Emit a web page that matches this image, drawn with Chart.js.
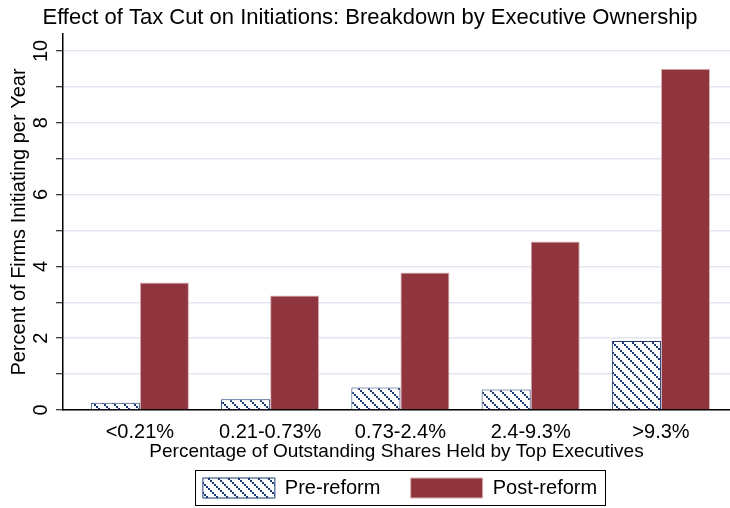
<!DOCTYPE html>
<html>
<head>
<meta charset="utf-8">
<script src="https://cdn.jsdelivr.net/npm/chart.js@4.4.0/dist/chart.umd.min.js"></script>
<style>
  html, body { margin: 0; padding: 0; background: #fff; }
  #wrap { width: 730px; height: 508px; }
</style>
</head>
<body>
<div id="wrap"><canvas id="chart"></canvas></div>
<script>
// Data
const categories = ["<0.21%", "0.21-0.73%", "0.73-2.4%", "2.4-9.3%", ">9.3%"];
const preReform = [0.2, 0.3, 0.63, 0.57, 1.92];
const postReform = [3.55, 3.19, 3.83, 4.69, 9.5];
const yTickValues = [0, 1, 2, 3, 4, 5, 6, 7, 8, 9, 10];
const yLabelValues = [0, 2, 4, 6, 8, 10];

const navy = "#1c3a78";
const maroon = "#90353d";
const FONT = "'Liberation Sans', Arial, sans-serif";

// diagonal stair-step hatch like the Stata fill
function makeHatch() {
    const c = document.createElement("canvas");
    c.width = 10;
    c.height = 10;
    const g = c.getContext("2d");
    g.fillStyle = "#fff";
    g.fillRect(0, 0, 10, 10);
    g.fillStyle = navy;
    for (let k = 0; k < 10; k += 2) {
        g.fillRect(k, k, 2, 2);
    }
    return g.createPattern(c, "repeat");
}

// y labels are drawn rotated, centred on their ticks
const yLabels = {
    id: "yLabels",
    afterDraw(chart) {
        const scale = chart.scales.y;
        const ctx = chart.ctx;
        ctx.save();
        ctx.fillStyle = "#000";
        ctx.font = "20px " + FONT;
        ctx.textAlign = "center";
        ctx.textBaseline = "middle";
        yLabelValues.forEach((v) => {
            const y = scale.getPixelForValue(v);
            ctx.save();
            ctx.translate(scale.right - 22, y);
            ctx.rotate(-Math.PI / 2);
            ctx.fillText(String(v), 0, 0);
            ctx.restore();
        });
        ctx.restore();
    },
};

// Legend sits under the plot area, with a box round it
const legendBox = {
    id: "legendBox",
    afterUpdate(chart) {
        const lg = chart.legend;
        if (!lg) return;
        const area = chart.chartArea;
        const dx = Math.round((area.left + area.right) / 2 - (lg.left + lg.right) / 2 + 3);
        lg.left += dx;
        lg.right += dx;
        lg.legendHitBoxes.forEach((b) => {
            b.left += dx;
        });
    },
    afterDraw(chart) {
        const lg = chart.legend;
        if (!lg || !lg.legendHitBoxes.length) return;
        const boxes = lg.legendHitBoxes;
        const first = boxes[0];
        const last = boxes[boxes.length - 1];
        const ctx = chart.ctx;
        ctx.save();
        ctx.strokeStyle = "#000";
        ctx.lineWidth = 1;
        const x1 = first.left - 8;
        const x2 = last.left + last.width + 8;
        const y1 = first.top - 8;
        const y2 = first.top + first.height + 7;
        ctx.strokeRect(Math.round(x1) + 0.5, Math.round(y1) + 0.5, Math.round(x2 - x1), Math.round(y2 - y1));
        ctx.restore();
    },
};

const hatch = makeHatch();
const ctx = document.getElementById("chart").getContext("2d");

new Chart(ctx, {
    type: "bar",
    data: {
        datasets: [
            {
                label: "Pre-reform",
                data: preReform.map((v, i) => ({ x: i, y: v })),
                backgroundColor: hatch,
                borderColor: navy,
                borderWidth: 1,
            },
            {
                label: "Post-reform",
                data: postReform.map((v, i) => ({ x: i, y: v })),
                backgroundColor: maroon,
                borderColor: "#d9b3b6",
                borderWidth: 1,
            },
        ],
    },
    options: {
        responsive: true,
        maintainAspectRatio: false,
        animation: false,
        categoryPercentage: 0.753,
        barPercentage: 1,
        layout: {
            padding: { left: 10, right: 0, top: 0, bottom: 0 },
        },
        scales: {
            x: {
                type: "linear",
                min: -0.59,
                max: 4.53,
                offset: false,
                afterBuildTicks(axis) {
                    axis.ticks = categories.map((c, i) => ({ value: i }));
                },
                ticks: {
                    autoSkip: false,
                    maxRotation: 0,
                    color: "#000",
                    padding: 12,
                    font: { family: FONT, size: 20, lineHeight: 1 },
                    callback: (v) => categories[v],
                },
                grid: { display: false, drawTicks: false },
                border: { display: true, color: "#000", width: 1.5 },
                title: {
                    display: true,
                    text: "Percentage of Outstanding Shares Held by Top Executives",
                    color: "#000",
                    font: { family: FONT, size: 19, lineHeight: 1 },
                    padding: { top: -12, bottom: 9 },
                },
            },
            y: {
                min: 0,
                max: 10.47,
                afterBuildTicks(axis) {
                    axis.ticks = yTickValues.map((v) => ({ value: v }));
                },
                afterFit(scale) {
                    scale.width = 53;
                },
                ticks: { display: false },
                grid: {
                    color: "#e2e6f0",
                    lineWidth: 1.5,
                    tickColor: "#000",
                    tickLength: 7,
                    tickWidth: 1,
                },
                border: { display: true, color: "#000", width: 1.5 },
                title: {
                    display: true,
                    text: "Percent of Firms Initiating per Year",
                    color: "#000",
                    font: { family: FONT, size: 20, lineHeight: 1 },
                    padding: { top: -1, bottom: 0 },
                },
            },
        },
        plugins: {
            title: {
                display: true,
                text: "Effect of Tax Cut on Initiations: Breakdown by Executive Ownership",
                color: "#000",
                font: { family: FONT, size: 22, weight: "normal", lineHeight: 1 },
                padding: { top: 7, bottom: 5 },
            },
            legend: {
                position: "bottom",
                labels: {
                    boxWidth: 72,
                    boxHeight: 20,
                    padding: 8,
                    color: "#000",
                    font: { family: FONT, size: 20 },
                    generateLabels(chart) {
                        const items = Chart.defaults.plugins.legend.labels.generateLabels(chart);
                        // widen the gap between the two entries
                        items[0].text += "    ";
                        return items;
                    },
                },
            },
            tooltip: { enabled: false },
        },
    },
    plugins: [legendBox, yLabels],
});
</script>
</body>
</html>
